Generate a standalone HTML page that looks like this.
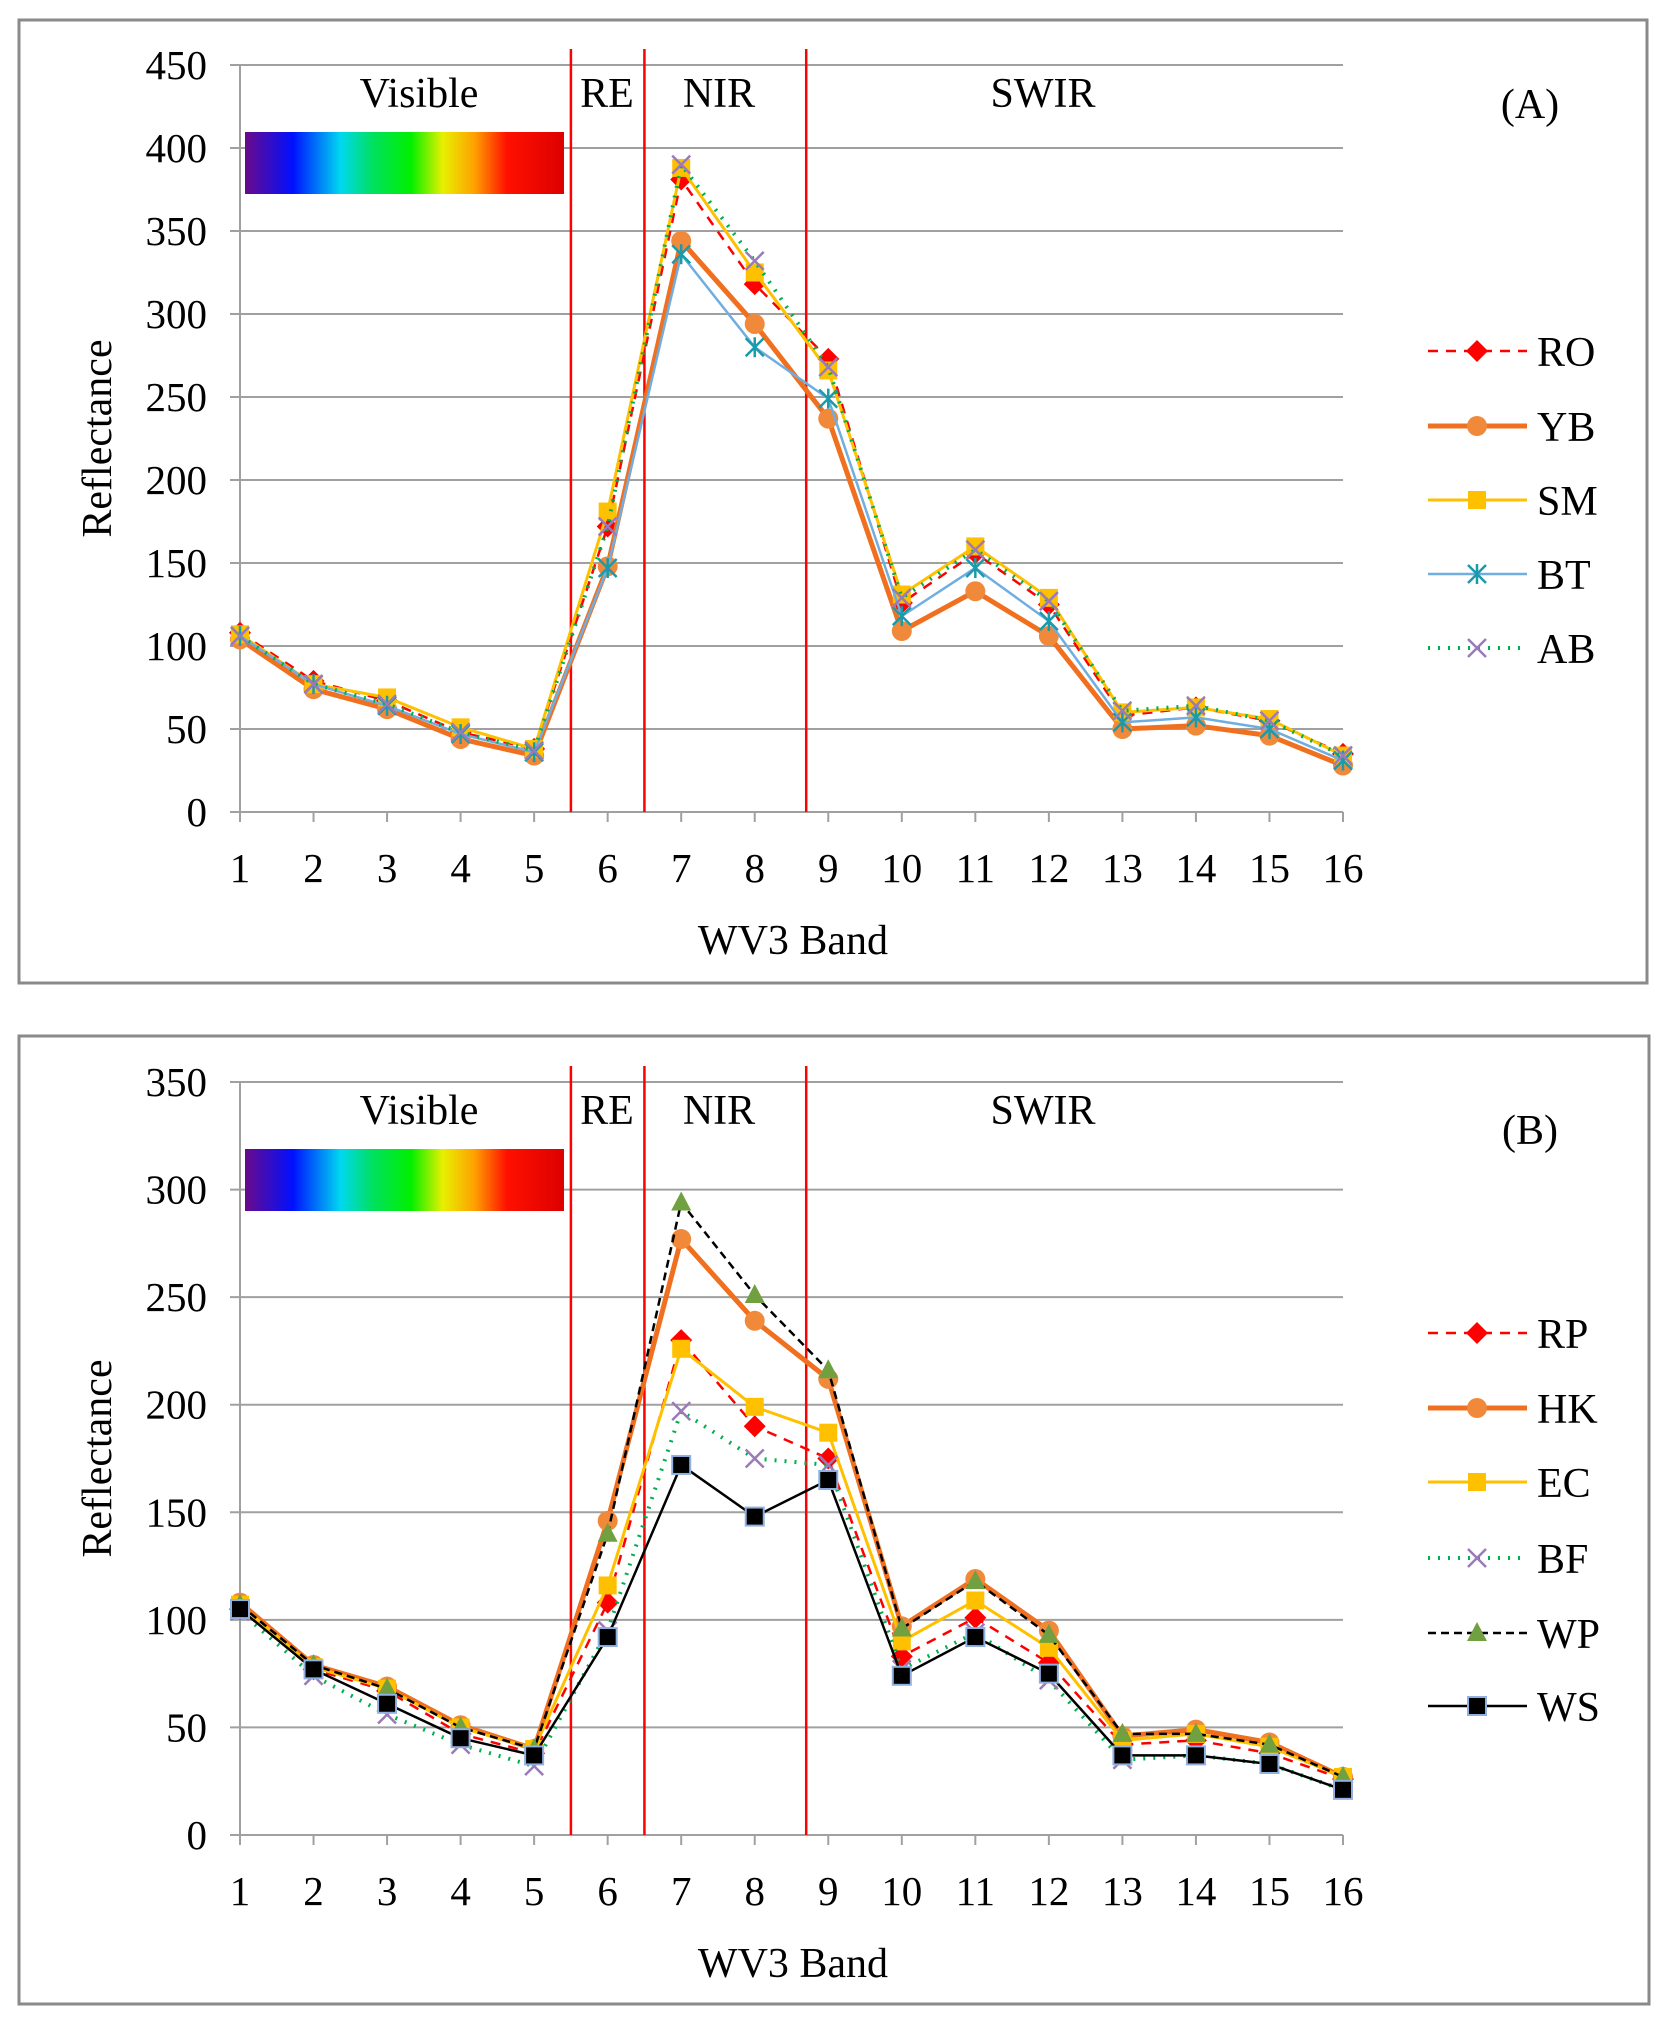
<!DOCTYPE html>
<html><head><meta charset="utf-8"><style>
html,body{margin:0;padding:0;background:#fff;}
svg, svg text{font-family:"Liberation Serif","DejaVu Serif",serif;fill:#000;}
</style></head><body>
<svg id="root" width="1665" height="2021" viewBox="0 0 1665 2021" xmlns="http://www.w3.org/2000/svg" font-family="Liberation Serif, serif">
<defs>
<linearGradient id="spec" x1="0" x2="1" y1="0" y2="0">
<stop offset="0" stop-color="#6a0a8a"/><stop offset="0.15" stop-color="#0010ff"/><stop offset="0.3" stop-color="#00d8f0"/><stop offset="0.4" stop-color="#00e060"/><stop offset="0.52" stop-color="#00f000"/><stop offset="0.62" stop-color="#e8f000"/><stop offset="0.72" stop-color="#ffa000"/><stop offset="0.82" stop-color="#ff1000"/><stop offset="1" stop-color="#dd0000"/>
</linearGradient>
</defs>
</svg>
<script>
// ---- Chart A data ----
const bands = [1,2,3,4,5,6,7,8,9,10,11,12,13,14,15,16];
const ticksA = [0,50,100,150,200,250,300,350,400,450];
const ticksB = [0,50,100,150,200,250,300,350];
const seriesNamesA = ["RO","YB","SM","BT","AB"];
const RO = [108,79,67,48,38,172,381,318,273,126,156,125,58,63,55,35];
const YB = [104,74,62,44,34,148,344,294,237,109,133,106,50,52,46,28];
const SM = [107,77,69,51,38,181,388,325,266,131,160,129,60,63,56,34];
const BT = [106,77,64,47,36,147,336,280,249,118,147,115,54,57,50,31];
const AB = [106,77,65,48,37,172,390,332,268,129,158,127,61,64,55,34];
// ---- Chart B data ----
const seriesNamesB = ["RP","HK","EC","BF","WP","WS"];
const RP = [105,77,67,47,38,108,230,190,175,83,101,80,42,44,38,26];
const HK = [108,79,69,51,40,146,277,239,212,97,119,95,46,49,43,27];
const EC = [107,78,68,50,40,116,226,199,187,90,109,87,44,47,41,27];
const BF = [104,74,56,42,32,95,197,175,172,77,94,72,35,37,33,21];
const WP = [107,79,68,50,40,140,294,251,216,96,118,93,47,47,42,27];
const WS = [105,77,61,45,37,92,172,148,165,74,92,75,37,37,33,21];
const regionBounds = [5.5,6.5,8.7];

const NS="http://www.w3.org/2000/svg";
const root=document.getElementById('root');
const FF='Liberation Serif, DejaVu Serif, serif';
function mk(tag,attrs,parent){const e=document.createElementNS(NS,tag);for(const k in attrs)e.setAttribute(k,attrs[k]);if(tag==='text')e.setAttribute('font-family',FF);(parent||root).appendChild(e);return e;}

const styles={
 RO:{c:'#ff0000',w:2.5,d:'10,8',m:'diamond',mc:'#ff0000'},
 YB:{c:'#f07020',w:5,d:'',m:'circle',mc:'#f08a3a'},
 SM:{c:'#ffc000',w:3,d:'',m:'square',mc:'#ffc000'},
 BT:{c:'#70aee0',w:2.5,d:'',m:'star',mc:'#1a9aaa'},
 AB:{c:'#00b050',w:4,d:'2,8',m:'x',mc:'#9a7ab8'},
 RP:{c:'#ff0000',w:2.5,d:'10,8',m:'diamond',mc:'#ff0000'},
 HK:{c:'#f07020',w:5,d:'',m:'circle',mc:'#f08a3a'},
 EC:{c:'#ffc000',w:3,d:'',m:'square',mc:'#ffc000'},
 BF:{c:'#00b050',w:4,d:'2,8',m:'x',mc:'#9a7ab8'},
 WP:{c:'#000000',w:2.5,d:'8,5',m:'tri',mc:'#70a040'},
 WS:{c:'#000000',w:2.5,d:'',m:'bsq',mc:'#000000'}
};

function marker(g,type,x,y,col){
 let e;
 if(type==='diamond')e=mk('polygon',{points:`${x},${y-11} ${x+11},${y} ${x},${y+11} ${x-11},${y}`,fill:col},g);
 else if(type==='circle')e=mk('circle',{cx:x,cy:y,r:10,fill:col},g);
 else if(type==='square')e=mk('rect',{x:x-9,y:y-9,width:18,height:18,fill:col},g);
 else if(type==='bsq')e=mk('rect',{x:x-9,y:y-9,width:18,height:18,fill:'#000',stroke:'#8fb0e0','stroke-width':2},g);
 else if(type==='tri')e=mk('polygon',{points:`${x},${y-11} ${x+10},${y+8} ${x-10},${y+8}`,fill:col},g);
 else if(type==='x')e=mk('path',{d:`M${x-9},${y-9}L${x+9},${y+9}M${x+9},${y-9}L${x-9},${y+9}`,stroke:col,'stroke-width':2.5,fill:'none'},g);
 else if(type==='star')e=mk('path',{d:`M${x-9},${y-9}L${x+9},${y+9}M${x+9},${y-9}L${x-9},${y+9}M${x},${y-10}L${x},${y+10}`,stroke:col,'stroke-width':2.5,fill:'none'},g);
 
 
}

function chart(cfg){
 const g=mk('g',{});
 
 
 const fr=mk('rect',{x:cfg.frame[0],y:cfg.frame[1],width:cfg.frame[2],height:cfg.frame[3],fill:'#fff',stroke:'#8a8a8a','stroke-width':3},g);
 
 const L=240,R=1343,top=cfg.top,bot=cfg.bot,max=cfg.ticks[cfg.ticks.length-1];
 const xs=b=>L+(b-1)*(R-L)/15;
 const ys=v=>bot-v/max*(bot-top);
 cfg.ticks.forEach(t=>{
  const ln=mk('line',{x1:L-10,x2:R,y1:ys(t),y2:ys(t),stroke:'#a0a0a0','stroke-width':2},g);
  
  const tx=mk('text',{x:207,y:ys(t)+14,'text-anchor':'end','font-size':41},g);tx.textContent=t;
  
 });
 const ya=mk('line',{x1:L,x2:L,y1:top,y2:bot+8,stroke:'#a0a0a0','stroke-width':2},g);
 
 bands.forEach(b=>{
  const tk=mk('line',{x1:xs(b),x2:xs(b),y1:bot,y2:bot+10,stroke:'#a0a0a0','stroke-width':2},g);
  
  const tx=mk('text',{x:xs(b),y:bot+70,'text-anchor':'middle','font-size':41},g);tx.textContent=b;
  
 });
 const sp=mk('rect',{x:245,y:cfg.specY,width:319,height:62,fill:'url(#spec)'},g);
 
 regionBounds.forEach(b=>{
  const l=mk('line',{x1:xs(b),x2:xs(b),y1:top-16,y2:bot,stroke:'#ff0000','stroke-width':2.5},g);
  
 });
 [['Visible',419],['RE',607],['NIR',719],['SWIR',1043]].forEach(([s,x])=>{
  const t=mk('text',{x:x,y:cfg.regY,'text-anchor':'middle','font-size':42},g);t.textContent=s;
  
 });
 const pl=mk('text',{x:1530,y:cfg.panelY,'text-anchor':'middle','font-size':42},g);pl.textContent=cfg.panel;
 
 const yt=mk('text',{x:0,y:0,'text-anchor':'middle','font-size':42,transform:`translate(111,${(top+bot)/2}) rotate(-90)`},g);yt.textContent='Reflectance';
 
 const xt=mk('text',{x:793,y:bot+142,'text-anchor':'middle','font-size':42},g);xt.textContent='WV3 Band';
 
 cfg.series.forEach((s,i)=>{
  const st=styles[s.name];
  const sg=mk('g',{},g);
  
  const pts=s.vals.map((v,j)=>xs(bands[j])+','+ys(v)).join(' ');
  const pline=mk('polyline',{points:pts,fill:'none',stroke:st.c,'stroke-width':st.w,'stroke-dasharray':st.d,'stroke-linejoin':'round'},sg);
  
  s.vals.forEach((v,j)=>marker(sg,st.m,xs(bands[j]),ys(v),st.mc));
  const ly=cfg.legY[i];
  const lg=mk('g',{},g);
  
  const ll=mk('line',{x1:1428,x2:1527,y1:ly,y2:ly,stroke:st.c,'stroke-width':st.w,'stroke-dasharray':st.d},lg);
  
  marker(lg,st.m,1477,ly,st.mc);
  const lt=mk('text',{x:1537,y:ly+15,'font-size':42},lg);lt.textContent=s.name;
  
 });
}

chart({name:'chart-a',frame:[19,20,1628,963],top:65,bot:812,ticks:ticksA,specY:132,regY:107,panelY:118,panel:'(A)',
 legY:[351,426,500,574,648],
 series:[{name:'RO',vals:RO},{name:'YB',vals:YB},{name:'SM',vals:SM},{name:'BT',vals:BT},{name:'AB',vals:AB}]});
chart({name:'chart-b',frame:[19,1036,1630,968],top:1082,bot:1835,ticks:ticksB,specY:1149,regY:1124,panelY:1144,panel:'(B)',
 legY:[1333,1408,1482,1558,1633,1706],
 series:[{name:'RP',vals:RP},{name:'HK',vals:HK},{name:'EC',vals:EC},{name:'BF',vals:BF},{name:'WP',vals:WP},{name:'WS',vals:WS}]});
</script>
</body></html>
